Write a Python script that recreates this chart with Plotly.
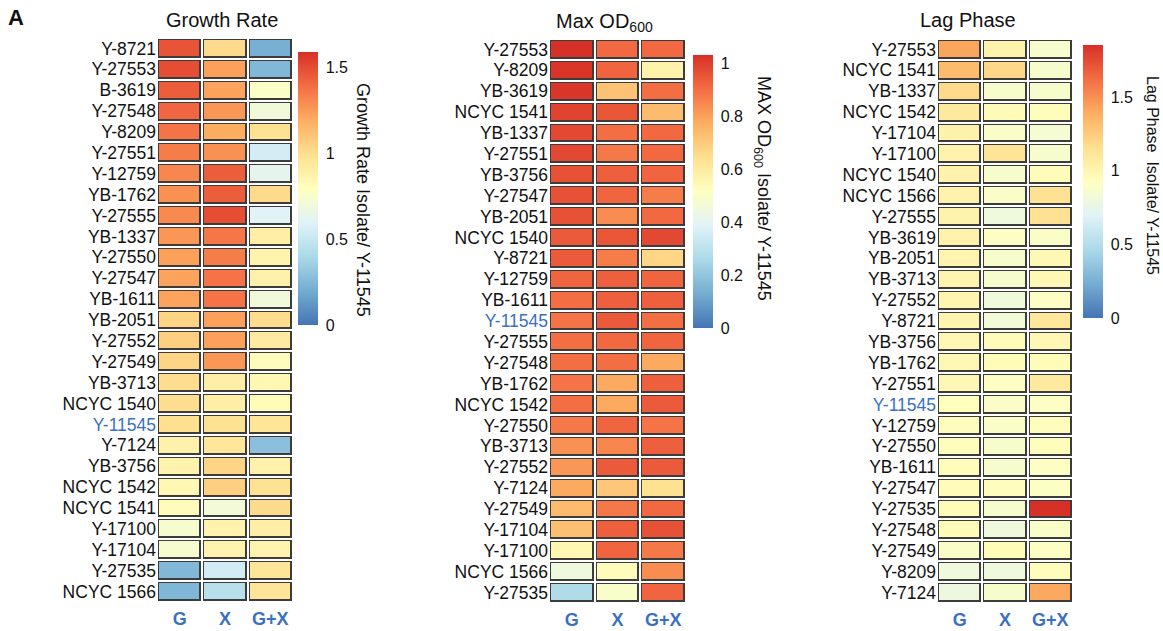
import plotly.graph_objects as go

W, H = 1163, 631
FONT = "Liberation Sans, Arial, sans-serif"
BLUE = "#3a70bf"

conditions = ["G", "X", "G+X"]

# ---------------- Growth Rate ----------------
growth_strains = ["Y-8721", "Y-27553", "B-3619", "Y-27548", "Y-8209", "Y-27551", "Y-12759",
                  "YB-1762", "Y-27555", "YB-1337", "Y-27550", "Y-27547", "YB-1611", "YB-2051",
                  "Y-27552", "Y-27549", "YB-3713", "NCYC 1540", "Y-11545", "Y-7124", "YB-3756",
                  "NCYC 1542", "NCYC 1541", "Y-17100", "Y-17104", "Y-27535", "NCYC 1566"]
growth_G = [1.47, 1.49, 1.44, 1.41, 1.37, 1.34, 1.31, 1.28, 1.30, 1.26, 1.23, 1.22, 1.22, 1.04,
            1.06, 1.04, 1.00, 1.00, 0.99, 0.88, 0.87, 0.84, 0.81, 0.74, 0.74, 0.25, 0.24]
growth_X = [1.01, 1.23, 1.22, 1.26, 1.19, 1.28, 1.44, 1.44, 1.49, 1.36, 1.34, 1.37, 1.37, 1.23,
            1.23, 1.26, 0.90, 0.90, 0.98, 0.95, 1.04, 1.06, 0.71, 0.87, 0.87, 0.54, 0.44]
growth_GX = [0.21, 0.25, 0.77, 0.70, 0.98, 0.55, 0.63, 1.01, 0.60, 0.90, 0.87, 0.88, 0.70, 1.00,
             0.92, 0.81, 0.84, 0.82, 0.96, 0.28, 0.88, 0.98, 1.01, 0.90, 0.87, 0.96, 0.96]

# ---------------- Max OD600 ----------------
od_strains = ["Y-27553", "Y-8209", "YB-3619", "NCYC 1541", "YB-1337", "Y-27551", "YB-3756",
              "Y-27547", "YB-2051", "NCYC 1540", "Y-8721", "Y-12759", "YB-1611", "Y-11545",
              "Y-27555", "Y-27548", "YB-1762", "NCYC 1542", "Y-27550", "YB-3713", "Y-27552",
              "Y-7124", "Y-27549", "Y-17104", "Y-17100", "NCYC 1566", "Y-27535"]
od_G = [1.03, 1.02, 1.02, 0.99, 0.98, 0.98, 0.96, 0.96, 0.96, 0.94, 0.94, 0.92, 0.90, 0.89,
        0.90, 0.90, 0.89, 0.90, 0.88, 0.83, 0.82, 0.78, 0.74, 0.73, 0.55, 0.45, 0.27]
od_X = [0.91, 0.92, 0.72, 0.95, 0.90, 0.88, 0.93, 0.92, 0.84, 0.95, 0.87, 0.93, 0.93, 0.94,
        0.91, 0.90, 0.78, 0.78, 0.92, 0.85, 0.94, 0.71, 0.88, 0.93, 0.92, 0.53, 0.49]
od_GX = [0.91, 0.57, 0.90, 0.74, 0.91, 0.91, 0.92, 0.87, 0.91, 0.98, 0.67, 0.92, 0.93, 0.90,
         0.92, 0.78, 0.93, 0.94, 0.89, 0.93, 0.94, 0.64, 0.91, 0.96, 0.88, 0.84, 0.92]

# ---------------- Lag Phase ----------------
lag_strains = ["Y-27553", "NCYC 1541", "YB-1337", "NCYC 1542", "Y-17104", "Y-17100", "NCYC 1540",
               "NCYC 1566", "Y-27555", "YB-3619", "YB-2051", "YB-3713", "Y-27552", "Y-8721",
               "YB-3756", "YB-1762", "Y-27551", "Y-11545", "Y-12759", "Y-27550", "YB-1611",
               "Y-27547", "Y-27535", "Y-27548", "Y-27549", "Y-8209", "Y-7124"]
lag_G = [1.42, 1.33, 1.18, 1.09, 1.02, 1.02, 1.02, 1.02, 1.02, 1.02, 1.00, 1.00, 1.00, 1.00,
         0.98, 0.98, 0.98, 0.93, 0.94, 0.94, 0.94, 0.96, 0.96, 0.96, 0.89, 0.81, 0.80]
lag_X = [1.02, 1.20, 0.87, 0.96, 0.89, 1.13, 0.87, 0.89, 0.81, 0.91, 0.87, 0.87, 0.81, 0.83,
         0.96, 0.96, 0.91, 0.89, 0.89, 0.87, 0.87, 0.94, 0.87, 0.81, 0.96, 0.81, 0.87]
lag_GX = [0.87, 0.87, 0.87, 0.94, 0.85, 0.87, 0.96, 1.15, 1.15, 0.89, 0.98, 0.98, 0.91, 1.11,
          0.98, 0.96, 1.09, 0.91, 0.94, 0.94, 0.91, 0.91, 1.85, 0.89, 0.91, 0.94, 1.41]

colorscale = [[0.0, "#4575b4"], [0.125, "#74add1"], [0.25, "#abd9e9"], [0.375, "#e0f3f8"],
              [0.5, "#ffffbf"], [0.625, "#fee090"], [0.75, "#fdae61"], [0.875, "#f46d43"],
              [1.0, "#d73027"]]

panels = [
    dict(strains=growth_strains, cols=[growth_G, growth_X, growth_GX], zmax=1.587,
         ticks=[0, 0.5, 1, 1.5], ticktext=["0", "0.5", "1", "1.5"],
         xdom=(157, 293), ydom=(38, 602), cbx=298, cby=(52, 325)),
    dict(strains=od_strains, cols=[od_G, od_X, od_GX], zmax=1.03,
         ticks=[0, 0.2, 0.4, 0.6, 0.8, 1], ticktext=["0", "0.2", "0.4", "0.6", "0.8", "1"],
         xdom=(549, 686), ydom=(39, 603), cbx=693, cby=(55, 328)),
    dict(strains=lag_strains, cols=[lag_G, lag_X, lag_GX], zmax=1.853,
         ticks=[0, 0.5, 1, 1.5], ticktext=["0", "0.5", "1", "1.5"],
         xdom=(937, 1073), ydom=(39, 603), cbx=1083, cby=(45, 318)),
]

fig = go.Figure()
layout_axes = {}
for i, p in enumerate(panels, start=1):
    xa = "x" if i == 1 else f"x{i}"
    ya = "y" if i == 1 else f"y{i}"
    z = [[p["cols"][c][r] for c in range(3)] for r in range(len(p["strains"]))]
    # dark outline layer
    fig.add_trace(go.Heatmap(z=z, x=conditions, y=p["strains"], xaxis=xa, yaxis=ya,
                             colorscale=[[0, "#3c3c3c"], [1, "#3c3c3c"]], showscale=False,
                             xgap=2, ygap=2, hoverinfo="skip"))
    cb_len = p["cby"][1] - p["cby"][0]
    cb_mid = (p["cby"][0] + p["cby"][1]) / 2
    fig.add_trace(go.Heatmap(
        z=z, x=conditions, y=p["strains"], xaxis=xa, yaxis=ya,
        colorscale=colorscale, zmin=0, zmax=p["zmax"], xgap=5, ygap=5,
        colorbar=dict(thickness=20, thicknessmode="pixels", len=cb_len, lenmode="pixels",
                      x=p["cbx"] / W, xanchor="left", xpad=0, y=1 - cb_mid / H,
                      yanchor="middle", ypad=0, outlinewidth=0,
                      ticks="outside", ticklen=5, tickcolor="rgba(0,0,0,0)",
                      tickvals=p["ticks"], ticktext=p["ticktext"],
                      tickfont=dict(size=16, color="#111", family=FONT))))
    ticktext = [f'<span style="color:{BLUE}">{s}</span>' if s == "Y-11545" else s
                for s in p["strains"]]
    layout_axes["xaxis" if i == 1 else f"xaxis{i}"] = dict(
        domain=[p["xdom"][0] / W, p["xdom"][1] / W], anchor=ya, showgrid=False,
        zeroline=False, showline=False, ticks="", ticklabelstandoff=4,
        tickfont=dict(size=18, color=BLUE, family=FONT, weight="bold"))
    layout_axes["yaxis" if i == 1 else f"yaxis{i}"] = dict(
        domain=[1 - p["ydom"][1] / H, 1 - p["ydom"][0] / H], anchor=xa, showgrid=False,
        zeroline=False, showline=False, ticks="", autorange="reversed",
        tickvals=p["strains"], ticktext=ticktext,
        tickfont=dict(size=17.5, color="#111", family=FONT))

annotations = [
    dict(text="<b>A</b>", x=16 / W, y=1 - 18 / H, font=dict(size=22)),
    dict(text="Growth Rate", x=222 / W, y=1 - 20 / H, font=dict(size=20)),
    dict(text="Max OD<sub>600</sub>", x=604 / W, y=1 - 22 / H, font=dict(size=20)),
    dict(text="Lag Phase", x=968 / W, y=1 - 20 / H, font=dict(size=20)),
    dict(text="Growth Rate Isolate/ Y-11545", x=363 / W, y=1 - 200 / H, textangle=90,
         font=dict(size=18)),
    dict(text="MAX OD<sub>600</sub> Isolate/ Y-11545", x=762 / W, y=1 - 188 / H, textangle=90,
         font=dict(size=18)),
    dict(text="Lag Phase  Isolate/ Y-11545", x=1153 / W, y=1 - 175 / H, textangle=90,
         font=dict(size=16)),
]
for a in annotations:
    a.update(xref="paper", yref="paper", showarrow=False, xanchor="center", yanchor="middle")
    a["font"].update(family=FONT, color="#111")

fig.update_layout(width=W, height=H, margin=dict(l=0, r=0, t=0, b=0),
                  paper_bgcolor="white", plot_bgcolor="white",
                  annotations=annotations, **layout_axes)
fig.write_html("out.html", config={"displayModeBar": False},
               post_script="document.body.style.margin='0';document.body.style.overflow='hidden';")
